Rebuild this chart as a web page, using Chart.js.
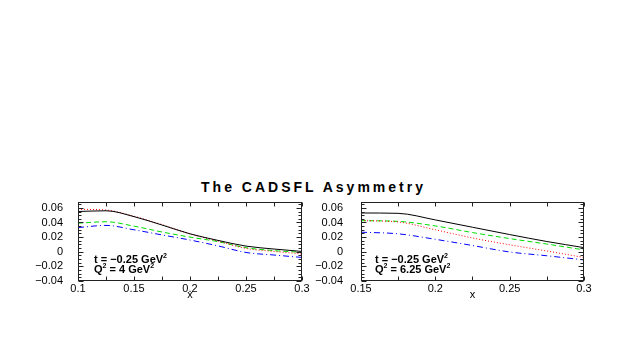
<!DOCTYPE html>
<html lang="en">
<head>
	<meta charset="UTF-8">
	<title>The CADSFL Asymmetry</title>
	<script src="https://cdn.jsdelivr.net/npm/chart.js@4.4.0/dist/chart.umd.min.js"></script>
</head>
<body style="margin:0;background:#fff">
	<div style="position:absolute;left:0;top:179px;width:627px;text-align:center;font:bold 14px 'Liberation Sans',Arial,sans-serif;line-height:16px;letter-spacing:3px">The CADSFL Asymmetry</div>
	<div style="position:absolute;left:0;top:190px;width:320px;height:115px"><canvas id="leftChart" width="320" height="115"></canvas></div>
	<div style="position:absolute;left:300px;top:190px;width:327px;height:115px"><canvas id="rightChart" width="327" height="115"></canvas></div>
<script>
	// left panel: Q^2 = 4 GeV^2
	const xLeft = [0.1, 0.125, 0.15, 0.175, 0.2, 0.225, 0.25, 0.275, 0.3];
	const blackLeft = [0.055, 0.056, 0.048, 0.0365, 0.0245, 0.0155, 0.0077, 0.0037, 0.0004];
	const redLeft = [0.058, 0.057, 0.0485, 0.037, 0.0245, 0.0145, 0.0045, 0.0005, -0.003];
	const greenLeft = [0.039, 0.041, 0.035, 0.027, 0.020, 0.0138, 0.0055, 0.0015, -0.0007];
	const blueLeft = [0.033, 0.036, 0.030, 0.023, 0.016, 0.008, -0.001, -0.0045, -0.0078];

	// right panel: Q^2 = 6.25 GeV^2
	const xRight = [0.15, 0.175, 0.2, 0.225, 0.25, 0.275, 0.3];
	const blackRight = [0.053, 0.0525, 0.0435, 0.0335, 0.0235, 0.014, 0.0056];
	const redRight = [0.0425, 0.0407, 0.030, 0.0188, 0.0095, 0.001, -0.0078];
	const greenRight = [0.0425, 0.0415, 0.0353, 0.0262, 0.018, 0.0105, 0.0025];
	const blueRight = [0.0267, 0.0245, 0.017, 0.0085, -0.0003, -0.0055, -0.0112];

	// axis ticks
	const yTicks = [-0.04, -0.02, 0, 0.02, 0.04, 0.06];
	const yLabels = ['\u22120.04', '\u22120.02', '0', '0.02', '0.04', '0.06'];
	const xTicksLeft = [0.1, 0.15, 0.2, 0.25, 0.3];
	const xLabelsLeft = ['0.1', '0.15', '0.2', '0.25', '0.3'];
	const xTicksRight = [0.15, 0.2, 0.25, 0.3];
	const xLabelsRight = ['0.15', '0.2', '0.25', '0.3'];

	const noteLeft = [[['t = \u22120.25 GeV'], ['2', true]], [['Q'], ['2', true], [' = 4 GeV'], ['2', true]]];
	const noteRight = [[['t = \u22120.25 GeV'], ['2', true]], [['Q'], ['2', true], [' = 6.25 GeV'], ['2', true]]];

	const FONT = "'Liberation Sans', Arial, sans-serif";
	Chart.defaults.font.family = FONT;
	Chart.defaults.color = '#000';

	// frame with inward ticks on all four sides, plus the text label
	const framePlugin = {
		id: 'frame',
		afterDatasetsDraw(chart, args, opts) {
			const ctx = chart.ctx;
			const a = chart.chartArea;
			const x = chart.scales.x, y = chart.scales.y;
			const L = Math.round(a.left) + 0.5, R = Math.round(a.right) - 0.5;
			const T = Math.round(a.top) + 0.5, B = Math.round(a.bottom) - 0.5;
			ctx.save();
			ctx.strokeStyle = '#222';
			ctx.lineWidth = 1;
			ctx.setLineDash([]);
			ctx.strokeRect(L, T, R - L, B - T);
			ctx.beginPath();
			for (let v = x.min; v <= x.max + 1e-9; v += 0.025) {
				const px = Math.round(x.getPixelForValue(v)) + 0.5;
				ctx.moveTo(px, B); ctx.lineTo(px, B - 4);
				ctx.moveTo(px, T); ctx.lineTo(px, T + 4);
			}
			for (let i = 0; i <= 21; i++) {
				const v = -0.04 + i * 0.005;
				const py = Math.round(y.getPixelForValue(v)) + 0.5;
				const len = i % 4 === 0 ? 5 : 3;
				ctx.moveTo(L, py); ctx.lineTo(L + len, py);
				ctx.moveTo(R, py); ctx.lineTo(R - len, py);
			}
			ctx.stroke();

			ctx.fillStyle = '#000';
			ctx.textBaseline = 'alphabetic';
			opts.note.forEach((line, i) => {
				let tx = a.left + opts.noteX;
				const ty = a.top + 61 + i * 10;
				line.forEach(([s, sup]) => {
					ctx.font = sup ? 'bold 7px ' + FONT : 'bold 11px ' + FONT;
					ctx.fillText(s, tx, sup ? ty - 5 : ty);
					tx += ctx.measureText(s).width;
				});
			});
			ctx.restore();
		}
	};

	function panel(id, xs, black, red, green, blue, xTicks, xLabels, note, opt) {
		const pts = arr => arr.map((v, i) => ({ x: xs[i], y: v }));
		const line = (data, color, dash) => ({
			data: pts(data),
			borderColor: color,
			borderWidth: 1,
			borderDash: dash,
			pointRadius: 0,
			fill: false,
			cubicInterpolationMode: 'monotone'
		});
		return new Chart(document.getElementById(id), {
			type: 'line',
			data: {
				datasets: [
					line(black, '#000000', []),
					line(red, '#ff0000', [1, 2]),
					line(green, '#00dd00', [5, 3]),
					line(blue, '#0000ff', [6, 3, 1, 3])
				]
			},
			options: {
				responsive: false,
				animation: false,
				devicePixelRatio: 1,
				layout: { padding: { left: 0, right: opt.padRight, top: 12, bottom: 0 } },
				plugins: {
					legend: { display: false },
					tooltip: { enabled: false },
					frame: { note: note, noteX: opt.noteX }
				},
				scales: {
					x: {
						type: 'linear',
						min: xs[0],
						max: xs[xs.length - 1],
						grid: { display: false, drawTicks: false },
						border: { display: false },
						afterBuildTicks: s => { s.ticks = xTicks.map(v => ({ value: v })); },
						afterFit: s => { s.height = 24; s.paddingLeft = 0; s.paddingRight = 0; },
						ticks: {
							autoSkip: false,
							maxRotation: 0,
							padding: 1,
							font: { size: 11 },
							callback: (v, i) => xLabels[i]
						},
						title: { display: true, text: 'x', font: { size: 11 }, padding: { top: 0, bottom: 3 } }
					},
					y: {
						min: -0.04,
						max: 0.068,
						grid: { display: false, drawTicks: false },
						border: { display: false },
						afterBuildTicks: s => { s.ticks = yTicks.map(v => ({ value: v })); },
						afterFit: s => { s.width = opt.yWidth; s.paddingTop = 0; s.paddingBottom = 0; },
						ticks: {
							autoSkip: false,
							padding: opt.yPad,
							font: { size: 11 },
							callback: (v, i) => yLabels[i]
						}
					}
				}
			},
			plugins: [framePlugin]
		});
	}

	panel('leftChart', xLeft, blackLeft, redLeft, greenLeft, blueLeft, xTicksLeft, xLabelsLeft, noteLeft,
		{ padRight: 18, yWidth: 78, yPad: 15, noteX: 16 });
	panel('rightChart', xRight, blackRight, redRight, greenRight, blueRight, xTicksRight, xLabelsRight, noteRight,
		{ padRight: 43, yWidth: 61, yPad: 18, noteX: 14 });
</script>
</body>
</html>
